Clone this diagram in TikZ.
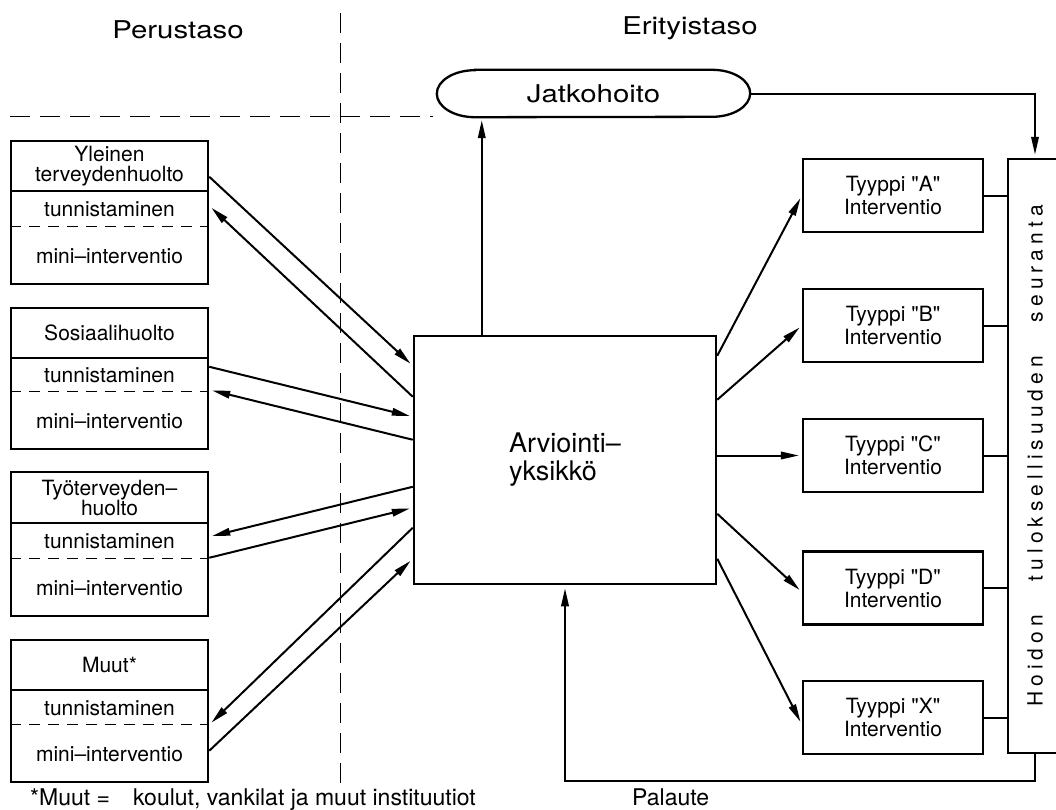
\documentclass[tikz,border=0pt]{standalone}
\usepackage{fontspec}
\usepackage{graphicx}
\setmainfont{TeX Gyre Heros}[Ligatures=TeXOff]
\newfontfamily\spacedfont[LetterSpace=24]{TeX Gyre Heros}
\usetikzlibrary{arrows.meta}

\begin{document}
\begin{tikzpicture}[x=1pt,y=-1pt,
    txt/.style={font=\fontsize{21}{20}\selectfont, align=center},
    lbox/.style={draw, line width=2.5pt, minimum width=197pt, txt},
    ibox/.style={draw, line width=2.3pt, minimum width=180pt, minimum height=73pt, font=\fontsize{21}{23}\selectfont, align=center},
    header/.style={font=\fontsize{24.5}{26}\selectfont},
    note/.style={font=\fontsize{23}{24}\selectfont, inner sep=0pt, anchor=base west},
    arr/.style={line width=2pt, shorten >=3pt, -{Triangle[length=18pt,width=7.5pt]}},
    link/.style={line width=2pt},
    midline/.style={dash pattern=on 11pt off 8pt, line width=1pt},
    tierline/.style={dash pattern=on 20pt off 10pt, line width=1pt}]

\useasboundingbox (0,0) rectangle (1056,809);
\clip (0,0) rectangle (1056,809);

    \node[header] (peru) at (178,30) {\scalebox{1.2}[1]{Perustaso}};
    \node[header] (erit) at (690,28) {\scalebox{1.2}[1]{Erityistaso}};

\draw[tierline] (340,13) -- (340,785);
\draw[tierline] (10,116) -- (433,116);

    % jatkohoito
    \node[header, minimum width=313pt, minimum height=47pt] (jat) at (593.5,93.5) {\scalebox{1.2}[1]{Jatkohoito}};
\draw[line width=2.3pt] ([xshift=38pt]jat.north west) -- ([xshift=-38pt]jat.north east)
    arc[start angle=90, end angle=-90, x radius=38pt, y radius=23.5pt]
    -- ([xshift=38pt]jat.south west)
    arc[start angle=270, end angle=90, x radius=38pt, y radius=23.5pt] -- cycle;

    % perustaso
    \node[lbox, minimum height=50pt] (yl) at (109.5,166) {Yleinen\\terveydenhuolto};
    \node[lbox, minimum height=93pt] (ylA) at (109.5,237.5) {};
    \node[txt] (yltun) at (109.5,209.5) {tunnistaminen};
    \node[txt] (ylmin) at (109.5,256) {mini–interventio};

    \node[lbox, minimum height=50pt] (so) at (109.5,333) {Sosiaalihuolto};
    \node[lbox, minimum height=91pt] (soA) at (109.5,403.5) {};
    \node[txt] (sotun) at (109.5,375.5) {tunnistaminen};
    \node[txt] (somin) at (109.5,421) {mini–interventio};

    \node[lbox, minimum height=51pt] (ty) at (109.5,497.5) {Työterveyden–\\huolto};
    \node[lbox, minimum height=93pt] (tyA) at (109.5,569.5) {};
    \node[txt] (tytun) at (109.5,541.5) {tunnistaminen};
    \node[txt] (tymin) at (109.5,588) {mini–interventio};

    \node[lbox, minimum height=50pt] (mu) at (109.5,665) {Muut*};
    \node[lbox, minimum height=92pt] (muA) at (109.5,736) {};
    \node[txt] (mutun) at (109.5,708) {tunnistaminen};
    \node[txt] (mumin) at (109.5,754) {mini–interventio};

\draw[midline] ([yshift=-37pt]ylA.north west) -- ([yshift=-37pt]ylA.north east);
\draw[midline] ([yshift=-35pt]soA.north west) -- ([yshift=-35pt]soA.north east);
\draw[midline] ([yshift=-37pt]tyA.north west) -- ([yshift=-37pt]tyA.north east);
\draw[midline] ([yshift=-36pt]muA.north west) -- ([yshift=-36pt]muA.north east);

    % arviointi
    \node[draw, line width=2.5pt, minimum width=302pt, minimum height=248pt, font=\fontsize{27}{28}\selectfont, align=left] (arv) at (565,460) {Arviointi–\\yksikkö};

    % erityistaso
    \node[ibox] (ta) at (893,195.5) {Tyyppi "A"\\Interventio};
    \node[ibox] (tb) at (893,325.5) {Tyyppi "B"\\Interventio};
    \node[ibox] (tc) at (893,455.5) {Tyyppi "C"\\Interventio};
    \node[ibox] (td) at (893,588) {Tyyppi "D"\\Interventio};
    \node[ibox] (tx) at (893,717.5) {Tyyppi "X"\\Interventio};

    \node[draw, line width=2.5pt, minimum width=54pt, minimum height=594pt] (hoi) at (1035,456) {};
    \node[rotate=90, font=\spacedfont\fontsize{21}{21}\selectfont] (hoitxt) at (hoi.center) {Hoidon\hspace{34pt}tuloksellisuuden\hspace{34pt}seuranta};

    \node[note] (muut) at (30,805) {*Muut =};
    \node[note] (koul) at (133,805) {koulut, vankilat ja muut instituutiot};
    \node[note] (pal) at (632,805) {Palaute};

\draw[arr] ([yshift=-37pt]yl.north east) -- ([yshift=-31pt]arv.north west);
\draw[arr] ([yshift=-62pt]arv.north west) -- ([yshift=-16pt]ylA.north east);

\draw[arr] ([yshift=-10pt]soA.north east) -- ([yshift=-82pt]arv.north west);
\draw[arr] ([yshift=-105pt]arv.north west) -- ([yshift=-33pt]soA.north east);

\draw[arr] ([yshift=-152pt]arv.north west) -- ([yshift=-15pt]tyA.north east);
\draw[arr] ([yshift=-36pt]tyA.north east) -- ([yshift=-173pt]arv.north west);

\draw[arr] ([yshift=-193pt]arv.north west) -- ([yshift=-36pt]muA.north east);
\draw[arr] ([yshift=-62pt]muA.north east) -- ([yshift=-224pt]arv.north west);

\draw[arr] ([yshift=-21pt]arv.north east) -- (ta.west);
\draw[arr] ([yshift=-65pt]arv.north east) -- (tb.west);
\draw[arr] (tc.west -| arv.east) -- (tc.west);
\draw[arr] ([yshift=-179pt]arv.north east) -- ([yshift=-4pt]td.west);
\draw[arr] ([yshift=-224pt]arv.north east) -- ([yshift=-7pt]tx.west);

\draw[link] (ta.east) -- (ta.east -| hoi.west);
\draw[link] (tb.east) -- (tb.east -| hoi.west);
\draw[link] (tc.east) -- (tc.east -| hoi.west);
\draw[link] (td.east) -- (td.east -| hoi.west);
\draw[link] (tx.east) -- (tx.east -| hoi.west);

\coordinate (up) at ([xshift=69pt]arv.north west);
\draw[arr] (up) -- (up |- jat.south);
\draw[arr] (jat.east) -| (hoi.north);
\draw[arr] (hoi.south) -- ++(0,27) -| (arv.south);

\end{tikzpicture}
\end{document}
